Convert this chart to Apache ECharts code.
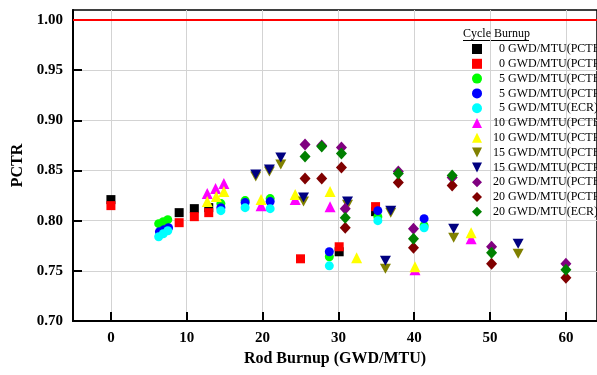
<!DOCTYPE html>
<html>
<head>
<meta charset="utf-8">
<script src="https://cdn.jsdelivr.net/npm/echarts@6/dist/echarts.min.js"></script>
<style>
  html, body { margin: 0; padding: 0; background: #fff; }
  #chart { width: 597px; height: 375px; }
</style>
</head>
<body>
<div id="chart"></div>
<script>
// tick labels
const xTicks = [0, 10, 20, 30, 40, 50, 60];
const yTicks = [0.70, 0.75, 0.80, 0.85, 0.90, 0.95, 1.00];
const refLine = 1.00; // red PCTR = 1 line

// [rod burnup, PCTR]
const c0Pctb = [[0, 0.821], [9.0, 0.808], [11.0, 0.812], [12.9, 0.813], [30.1, 0.769], [34.9, 0.809]];
const c0Pctr = [[0, 0.815], [9.0, 0.798], [11.0, 0.804], [12.9, 0.808], [25.0, 0.762], [30.1, 0.774], [34.9, 0.814]];
const c5Pctb = [[6.3, 0.797], [6.9, 0.799], [7.5, 0.801], [14.5, 0.817], [17.7, 0.820], [21.0, 0.822], [28.8, 0.764], [35.2, 0.804], [41.3, 0.795]];
const c5Pctr = [[6.4, 0.789], [7.0, 0.791], [7.6, 0.793], [14.5, 0.813], [17.7, 0.818], [21.0, 0.819], [28.8, 0.769], [35.2, 0.810], [41.3, 0.802]];
const c5Ecr = [[6.3, 0.784], [6.9, 0.787], [7.5, 0.790], [14.5, 0.810], [17.7, 0.813], [21.0, 0.812], [28.8, 0.755], [35.2, 0.800], [41.3, 0.793]];
const c10Pctb = [[12.7, 0.827], [13.8, 0.832], [14.9, 0.837], [19.8, 0.815], [24.3, 0.821], [28.9, 0.814], [40.1, 0.751], [47.5, 0.782]];
const c10Pctr = [[12.7, 0.819], [13.9, 0.824], [14.9, 0.829], [19.8, 0.821], [24.3, 0.826], [28.9, 0.829], [32.4, 0.763], [40.1, 0.754], [47.5, 0.788]];
const c15Pctb = [[19.1, 0.844], [20.9, 0.849], [22.4, 0.856], [25.4, 0.819], [31.2, 0.816], [36.9, 0.808], [36.2, 0.752], [45.2, 0.783], [53.7, 0.767]];
const c15Pctr = [[19.1, 0.846], [20.9, 0.851], [22.4, 0.863], [25.4, 0.823], [31.2, 0.819], [36.9, 0.810], [36.2, 0.760], [45.2, 0.792], [53.7, 0.777]];
const c20Pctb = [[25.6, 0.876], [27.8, 0.875], [30.4, 0.873], [30.9, 0.812], [37.9, 0.849], [45.0, 0.843], [39.9, 0.792], [50.2, 0.774], [60.0, 0.757]];
const c20Pctr = [[25.6, 0.842], [27.8, 0.842], [30.4, 0.853], [30.9, 0.793], [37.9, 0.838], [45.0, 0.835], [39.9, 0.773], [50.2, 0.757], [60.0, 0.743]];
const c20Ecr = [[25.6, 0.864], [27.8, 0.874], [30.4, 0.867], [30.9, 0.803], [37.9, 0.847], [45.0, 0.845], [39.9, 0.782], [50.2, 0.768], [60.0, 0.751]];

const serif = '"Liberation Serif", "Times New Roman", serif';
const downTri = 'path://M0,0L10,0L5,10Z';

// 散点系列
function scatter(name, data, color, symbol, size) {
  return {
    name: name,
    type: 'scatter',
    data: data,
    symbol: symbol,
    symbolSize: size,
    itemStyle: { color: color, opacity: 1 },
    emphasis: { disabled: true },
    z: 3
  };
}

const series = [
  scatter('0 GWD/MTU(PCTB)', c0Pctb, '#000000', 'rect', 9),
  scatter('0 GWD/MTU(PCTR)', c0Pctr, '#ff0000', 'rect', 9),
  scatter('5 GWD/MTU(PCTB)', c5Pctb, '#00ff00', 'circle', 9),
  scatter('5 GWD/MTU(PCTR)', c5Pctr, '#0000ff', 'circle', 9),
  scatter('5 GWD/MTU(ECR)', c5Ecr, '#00ffff', 'circle', 9),
  scatter('10 GWD/MTU(PCTB)', c10Pctb, '#ff00ff', 'triangle', 11),
  scatter('10 GWD/MTU(PCTR)', c10Pctr, '#ffff00', 'triangle', 11),
  scatter('15 GWD/MTU(PCTB)', c15Pctb, '#808000', downTri, [11, 10]),
  scatter('15 GWD/MTU(PCTR)', c15Pctr, '#000080', downTri, [11, 10]),
  scatter('20 GWD/MTU(PCTB)', c20Pctb, '#800080', 'diamond', [11, 12]),
  scatter('20 GWD/MTU(PCTR)', c20Pctr, '#800000', 'diamond', [11, 12]),
  scatter('20 GWD/MTU(ECR)', c20Ecr, '#008000', 'diamond', [11, 12])
];

// PCTR = 1.00 红线
series[0].markLine = {
  silent: true,
  symbol: 'none',
  label: { show: false },
  lineStyle: { color: '#ff0000', width: 2, type: 'solid' },
  data: [{ yAxis: refLine }],
  z: 2
};

const chart = echarts.init(document.getElementById('chart'));
chart.setOption({
  animation: false,
  backgroundColor: '#ffffff',
  title: {
    text: 'Cycle Burnup',
    left: 463,
    top: 28,
    padding: 0,
    textStyle: { fontFamily: serif, fontSize: 12, fontWeight: 'normal', color: '#000' }
  },
  graphic: [{
    type: 'line',
    shape: { x1: 463, y1: 40.5, x2: 529, y2: 40.5 },
    style: { stroke: '#000', lineWidth: 1 }
  }],
  legend: {
    orient: 'vertical',
    left: 472,
    top: 43,
    padding: 0,
    itemWidth: 10,
    itemHeight: 10,
    itemGap: 2.8,
    selectedMode: false,
    // 数字右对齐
    formatter: function (name) {
      return (name.indexOf(' ') === 1 ? '    ' : '  ') + name;
    },
    textStyle: { fontFamily: serif, fontSize: 12, color: '#000' }
  },
  grid: {
    left: 73,
    right: -3,
    top: 10,
    bottom: 54,
    show: true,
    borderColor: '#000',
    borderWidth: 1.5
  },
  xAxis: {
    type: 'value',
    min: -5,
    max: 64.1,
    name: 'Rod Burnup (GWD/MTU)',
    nameLocation: 'middle',
    nameGap: 27,
    nameTextStyle: { fontFamily: serif, fontSize: 16, fontWeight: 'bold', color: '#000' },
    axisLine: { show: true, onZero: false, lineStyle: { color: '#000', width: 2 } },
    axisTick: { inside: true, length: 9, lineStyle: { color: '#000', width: 2 }, customValues: xTicks },
    axisLabel: { customValues: xTicks, margin: 10, fontFamily: serif, fontSize: 15, fontWeight: 'bold', color: '#000' },
    splitLine: { show: true, lineStyle: { color: '#d3d3d3', width: 1 } }
  },
  yAxis: {
    type: 'value',
    min: 0.70,
    max: 1.01,
    name: 'PCTR',
    nameLocation: 'middle',
    nameGap: 47,
    nameTextStyle: { fontFamily: serif, fontSize: 16, fontWeight: 'bold', color: '#000' },
    axisLine: { show: true, onZero: false, lineStyle: { color: '#000', width: 2 } },
    axisTick: { inside: true, length: 9, lineStyle: { color: '#000', width: 2 }, customValues: yTicks },
    axisLabel: {
      customValues: yTicks,
      margin: 10,
      fontFamily: serif,
      fontSize: 15,
      fontWeight: 'bold',
      color: '#000',
      formatter: function (v) { return v.toFixed(2); }
    },
    splitLine: { show: true, lineStyle: { color: '#d3d3d3', width: 1 } }
  },
  series: series
});
</script>
</body>
</html>
